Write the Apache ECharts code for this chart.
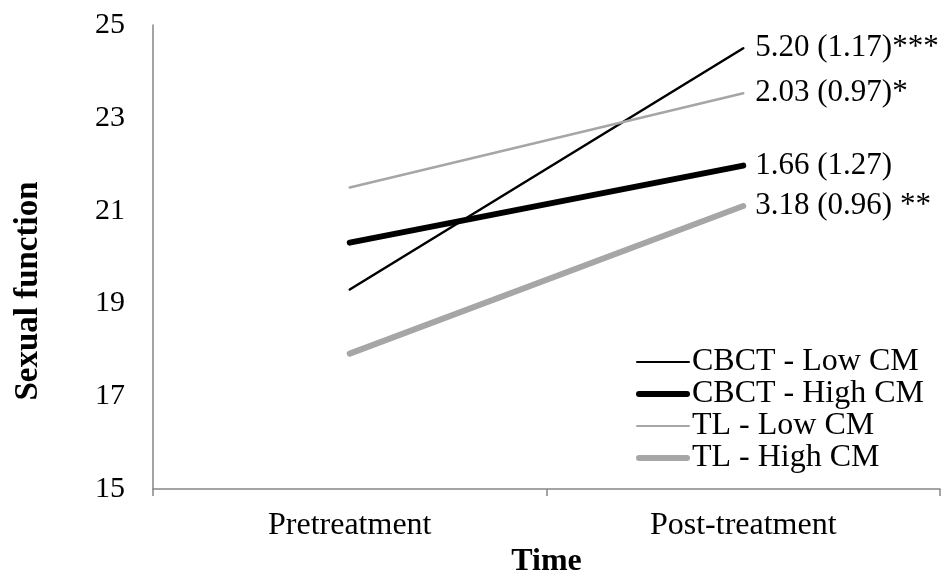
<!DOCTYPE html>
<html>
<head>
<meta charset="utf-8">
<script src="https://cdn.jsdelivr.net/npm/echarts@6/dist/echarts.min.js"></script>
<style>
  html, body { margin: 0; padding: 0; background: #fff; }
  #chart { width: 946px; height: 583px; }
</style>
</head>
<body>
<div id="chart"></div>
<script>
// data
const categories = ["Pretreatment", "Post-treatment"];
const seriesNames = ["CBCT - Low CM", "CBCT - High CM", "TL - Low CM", "TL - High CM"];
const cbctLow = [19.30, 24.50];
const cbctHigh = [20.31, 21.97];
const tlLow = [21.50, 23.53];
const tlHigh = [17.92, 21.10];
const endLabels = ["5.20 (1.17)***", "1.66 (1.27)", "2.03 (0.97)*", "3.18 (0.96) **"];
const yTicks = [15, 17, 19, 21, 23, 25];

const FONT = "'Liberation Serif', 'Times New Roman', serif";
const AXIS_GRAY = "#868686";

// legend swatches: plain line, thin or thick with round ends
const thinIcon = "path://M1,0H53A1,1 0 0 1 53,2H1A1,1 0 0 1 1,0Z";
const thickIcon = "path://M3,0H51A3,3 0 0 1 51,6H3A3,3 0 0 1 3,0Z";

const chart = echarts.init(document.getElementById("chart"));

const makeSeries = (name, data, color, width, label) => ({
  name: name,
  type: "line",
  data: data,
  symbol: "none",
  animation: false,
  lineStyle: { color: color, width: width, cap: "round" },
  itemStyle: { color: color },
  endLabel: {
    show: true,
    formatter: () => label,
    color: "#000",
    fontFamily: FONT,
    fontSize: 31,
    distance: 12,
  },
});

const option = {
  backgroundColor: "#fff",
  animation: false,
  grid: { left: 153, right: 6, top: 25, bottom: 93, containLabel: false },
  legend: {
    orient: "vertical",
    left: 631,
    top: 341,
    itemWidth: 54,
    itemHeight: 14,
    itemGap: 0,
    symbolKeepAspect: true,
    textStyle: { color: "#000", fontFamily: FONT, fontSize: 32, lineHeight: 32, padding: [0, 0, 0, -3] },
    data: [
      { name: seriesNames[0], icon: thinIcon },
      { name: seriesNames[1], icon: thickIcon },
      { name: seriesNames[2], icon: thinIcon },
      { name: seriesNames[3], icon: thickIcon },
    ],
  },
  xAxis: {
    type: "category",
    data: categories,
    boundaryGap: true,
    name: "Time",
    nameLocation: "middle",
    nameGap: 52,
    nameTextStyle: { color: "#000", fontFamily: FONT, fontSize: 32, fontWeight: "bold" },
    axisLine: { lineStyle: { color: AXIS_GRAY, width: 1.5 } },
    axisTick: { show: true, length: 7, lineStyle: { color: AXIS_GRAY, width: 1.5 } },
    axisLabel: { color: "#000", fontFamily: FONT, fontSize: 32, margin: 20 },
  },
  yAxis: {
    type: "value",
    min: yTicks[0],
    max: yTicks[yTicks.length - 1],
    interval: 2,
    name: "Sexual function",
    nameLocation: "middle",
    nameGap: 108,
    nameTextStyle: {
      color: "#000", fontFamily: FONT, fontSize: 33, fontWeight: "bold",
      padding: [0, 68, 0, 0],
    },
    axisLine: { show: true, lineStyle: { color: AXIS_GRAY, width: 1.5 } },
    axisTick: { show: false },
    splitLine: { show: false },
    axisLabel: { color: "#000", fontFamily: FONT, fontSize: 30, margin: 28 },
  },
  series: [
    makeSeries(seriesNames[0], cbctLow, "#000000", 2.5, endLabels[0]),
    makeSeries(seriesNames[1], cbctHigh, "#000000", 6, endLabels[1]),
    makeSeries(seriesNames[2], tlLow, "#a6a6a6", 2.5, endLabels[2]),
    makeSeries(seriesNames[3], tlHigh, "#a6a6a6", 6, endLabels[3]),
  ],
};

chart.setOption(option);
</script>
</body>
</html>
